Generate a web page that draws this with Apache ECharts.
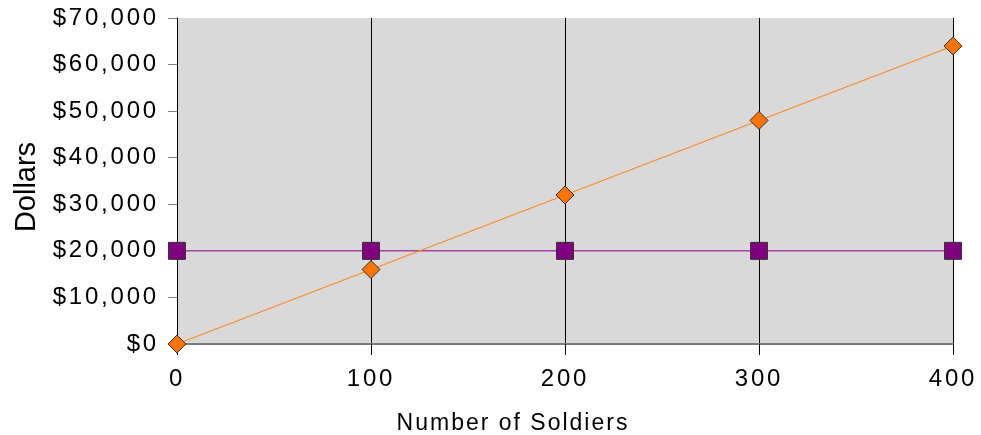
<!DOCTYPE html>
<html>
<head>
<meta charset="utf-8">
<title>Cost by Number of Soldiers</title>
<script src="https://cdn.jsdelivr.net/npm/echarts@6/dist/echarts.min.js"></script>
<style>
  html, body { margin: 0; padding: 0; background: #ffffff; }
  #chart { width: 981px; height: 435px; }
</style>
</head>
<body>
<div id="chart"></div>
<script>
// Number of soldiers on the x axis
const soldiers = [0, 100, 200, 300, 400];
// Cost that grows with the number of soldiers
const variableCost = [0, 16000, 32000, 48000, 64000];
// Flat cost, independent of the number of soldiers
const fixedCost = [20000, 20000, 20000, 20000, 20000];
// Tick values for the dollar axis
const dollarTicks = [0, 10000, 20000, 30000, 40000, 50000, 60000, 70000];

// Wide-set lettering: extra tracking per font size (px)
const TRACKING = { 24: 2.8, 23: 2 };
const nativeFillText = CanvasRenderingContext2D.prototype.fillText;
CanvasRenderingContext2D.prototype.fillText = function (text, x, y, maxWidth) {
  const m = /(\d+(?:\.\d+)?)px/.exec(this.font);
  const s = m ? (TRACKING[+m[1]] || 0) : 0;
  this.letterSpacing = s + 'px';
  return maxWidth === undefined
    ? nativeFillText.call(this, text, x, y)
    : nativeFillText.call(this, text, x, y, maxWidth);
};

const FONT = '"Liberation Sans", Arial, sans-serif';
const chart = echarts.init(document.getElementById('chart'), null, { renderer: 'canvas' });

const toPairs = (xs, ys) => xs.map((x, i) => [x, ys[i]]);

chart.setOption({
  animation: false,
  backgroundColor: '#ffffff',
  textStyle: { fontFamily: FONT, color: '#000000' },
  grid: {
    left: 177, right: 28, top: 18, bottom: 91,
    outerBoundsMode: 'none',
    containLabel: false,
    show: true, backgroundColor: '#d9d9d9', borderWidth: 0
  },
  xAxis: {
    type: 'value',
    min: soldiers[0],
    max: soldiers[soldiers.length - 1],
    interval: 100,
    name: 'Number of Soldiers',
    nameLocation: 'middle',
    nameGap: 68,
    nameTextStyle: { fontSize: 23, color: '#000', fontFamily: FONT, padding: [0, 104, 0, 0] },
    axisLine: { show: true, onZero: false, lineStyle: { color: '#7a7a7a', width: 2 } },
    axisTick: {
      show: true, length: 11, inside: false,
      lineStyle: { color: '#000', width: 1 }
    },
    axisLabel: { fontSize: 24, color: '#000', fontFamily: FONT, margin: 23 },
    splitLine: { show: true, lineStyle: { color: '#000', width: 1 } }
  },
  yAxis: {
    type: 'value',
    min: dollarTicks[0],
    max: dollarTicks[dollarTicks.length - 1],
    interval: 10000,
    name: 'Dollars',
    nameLocation: 'middle',
    nameGap: 136,
    nameTextStyle: { fontSize: 29, color: '#000', fontFamily: FONT, padding: [0, 12, 0, 0] },
    axisLine: { show: true, lineStyle: { color: '#000', width: 1 } },
    axisTick: { show: true, length: 9, lineStyle: { color: '#808080', width: 1 } },
    axisLabel: {
      fontSize: 24, color: '#000', fontFamily: FONT, margin: 18,
      formatter: v => '$' + v.toLocaleString('en-US')
    },
    splitLine: { show: false }
  },
  series: [
    {
      name: 'Fixed cost',
      type: 'line',
      data: toPairs(soldiers, fixedCost),
      symbol: 'rect',
      symbolSize: 17,
      lineStyle: { color: '#a447a4', width: 1.5 },
      itemStyle: { color: '#800080', borderColor: '#333333', borderWidth: 1 },
      z: 2
    },
    {
      name: 'Variable cost',
      type: 'line',
      data: toPairs(soldiers, variableCost),
      symbol: 'diamond',
      symbolSize: 18,
      lineStyle: { color: '#ff8a26', width: 1.2 },
      itemStyle: { color: '#ff7400', borderColor: '#333333', borderWidth: 1 },
      z: 3
    }
  ]
});
</script>
</body>
</html>
